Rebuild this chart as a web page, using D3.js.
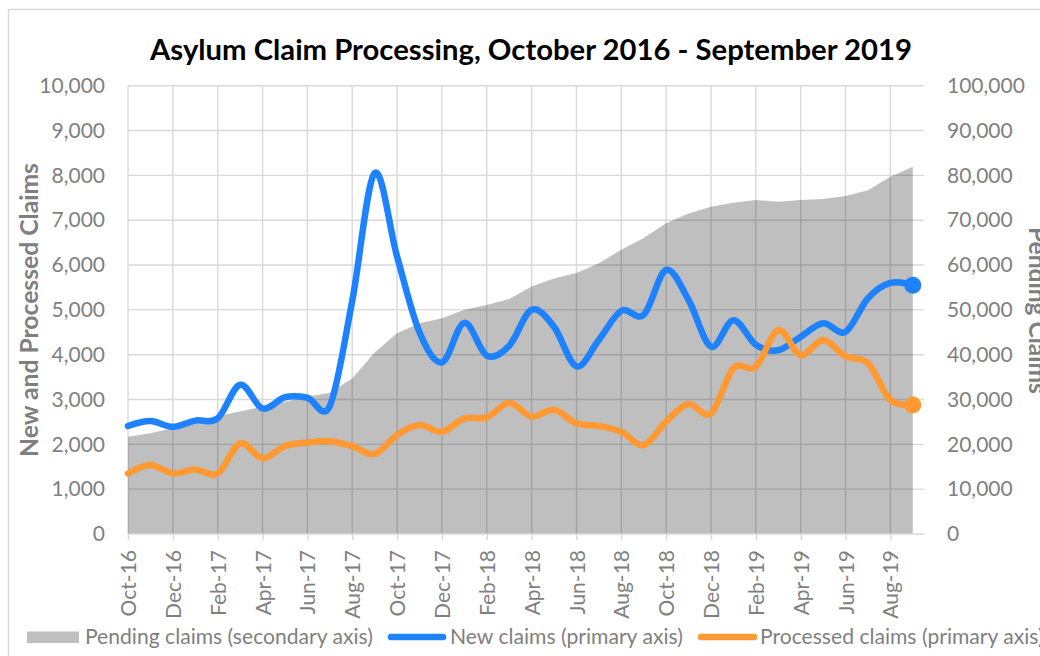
<!DOCTYPE html>
<html>
  <head>
    <meta charset="UTF-8" />
    <style>
      body {
        margin: 0;
        background: #fff;
        font-family: "Lato";
      }
      .tick text {
        fill: #7f7f7f;
      }
    </style>
  </head>
  <body>
    <svg></svg>
    <script src="https://d3js.org/d3.v7.min.js"></script>
    <script>
      let width = 1040,
        height = 656;

      // Data (Oct 2016 - Sep 2019, monthly)
      let months = [
        "Oct-16", "Nov-16", "Dec-16", "Jan-17", "Feb-17", "Mar-17",
        "Apr-17", "May-17", "Jun-17", "Jul-17", "Aug-17", "Sep-17",
        "Oct-17", "Nov-17", "Dec-17", "Jan-18", "Feb-18", "Mar-18",
        "Apr-18", "May-18", "Jun-18", "Jul-18", "Aug-18", "Sep-18",
        "Oct-18", "Nov-18", "Dec-18", "Jan-19", "Feb-19", "Mar-19",
        "Apr-19", "May-19", "Jun-19", "Jul-19", "Aug-19", "Sep-19",
      ];

      let newClaims = [
        2410, 2520, 2390, 2530, 2580, 3330, 2800, 3050, 3040, 2860, 5200, 8050,
        6190, 4500, 3830, 4710, 3980, 4200, 5000, 4620, 3740, 4330, 4980, 4890,
        5890, 5220, 4180, 4770, 4220, 4100, 4400, 4700, 4510, 5260, 5600, 5550,
      ];

      let processedClaims = [
        1350, 1540, 1350, 1440, 1350, 2020, 1690, 1960, 2040, 2070, 1960, 1785,
        2210, 2430, 2280, 2580, 2600, 2930, 2620, 2770, 2470, 2410, 2280, 1985,
        2510, 2900, 2690, 3700, 3730, 4550, 3990, 4330, 3960, 3810, 2990, 2880,
      ];

      let pendingClaims = [
        21700, 22500, 23600, 25000, 26300, 27300, 28400, 29500, 30600, 31500,
        34700, 40500, 44800, 47000, 48100, 50000, 51100, 52400, 55200, 57000,
        58200, 60400, 63400, 66000, 69300, 71500, 73000, 73900, 74500, 74100,
        74500, 74700, 75400, 76700, 79700, 81900,
      ];

      let primaryTicks = d3.range(0, 10001, 1000);
      let secondaryTicks = d3.range(0, 100001, 10000);

      let svg = d3
        .select("svg")
        .attr("width", width)
        .attr("height", height);

      // chart frame
      svg
        .append("rect")
        .attr("x", 8.5)
        .attr("y", 9.5)
        .attr("width", 1100)
        .attr("height", 700)
        .attr("fill", "none")
        .attr("stroke", "#d9d9d9")
        .attr("stroke-width", 1.5);

      let plotLeft = 128,
        plotRight = 924,
        plotTop = 85.7,
        plotBottom = 534;

      let x = d3
        .scaleLinear()
        .domain([0, months.length - 0.5])
        .range([plotLeft, plotRight]);

      let y = d3.scaleLinear().domain([0, 10000]).range([plotBottom, plotTop]);
      let y2 = d3
        .scaleLinear()
        .domain([0, 100000])
        .range([plotBottom, plotTop]);

      let labelIdx = months.map((m, i) => i).filter((i) => i % 2 == 0);

      // horizontal gridlines
      svg
        .append("g")
        .selectAll("line")
        .data(primaryTicks.slice(1))
        .enter()
        .append("line")
        .attr("x1", plotLeft)
        .attr("x2", plotRight)
        .attr("y1", (d) => y(d))
        .attr("y2", (d) => y(d))
        .attr("stroke", "#d9d9d9")
        .attr("stroke-width", 1.4);

      // vertical gridlines
      svg
        .append("g")
        .selectAll("line")
        .data(labelIdx)
        .enter()
        .append("line")
        .attr("x1", (d) => x(d))
        .attr("x2", (d) => x(d))
        .attr("y1", plotTop)
        .attr("y2", plotBottom)
        .attr("stroke", "#d9d9d9")
        .attr("stroke-width", 1.4);

      // Pending claims area (secondary axis)
      let area = d3
        .area()
        .x((d, i) => x(i))
        .y0(y2(0))
        .y1((d) => y2(d));

      svg
        .append("path")
        .datum(pendingClaims)
        .attr("d", area)
        .attr("fill", "#000")
        .attr("fill-opacity", 0.25);

      // x axis
      let xAxis = d3
        .axisBottom(x)
        .tickValues(labelIdx)
        .tickSize(6)
        .tickSizeOuter(0)
        .tickFormat((i) => months[i]);

      let gx = svg
        .append("g")
        .attr("transform", "translate(0," + plotBottom + ")")
        .call(xAxis);

      gx.select(".domain")
        .attr("d", "M" + plotLeft + ",0H" + plotRight)
        .attr("stroke", "#d9d9d9")
        .attr("stroke-width", 1.6);
      gx.selectAll(".tick line")
        .attr("stroke", "#d9d9d9")
        .attr("stroke-width", 1.4);
      gx.selectAll(".tick text")
        .attr("font-family", "Lato")
        .attr("font-size", 21)
        .attr("text-anchor", "end")
        .attr("transform", "rotate(-90)")
        .attr("x", -16)
        .attr("y", 0)
        .attr("dy", "0.36em");

      // primary y axis
      let gy = svg
        .append("g")
        .attr("transform", "translate(" + 105 + ",0)")
        .call(
          d3
            .axisLeft(y)
            .tickValues(primaryTicks)
            .tickSize(0)
            .tickPadding(0)
            .tickFormat(d3.format(","))
        );
      gy.select(".domain").remove();
      gy.selectAll(".tick text")
        .attr("font-family", "Lato")
        .attr("font-size", 21);

      // secondary y axis
      let gy2 = svg
        .append("g")
        .attr("transform", "translate(" + 947 + ",0)")
        .call(
          d3
            .axisRight(y2)
            .tickValues(secondaryTicks)
            .tickSize(0)
            .tickPadding(0)
            .tickFormat(d3.format(","))
        );
      gy2.select(".domain").remove();
      gy2
        .selectAll(".tick text")
        .attr("font-family", "Lato")
        .attr("font-size", 21);

      // lines
      let line = d3
        .line()
        .x((d, i) => x(i))
        .y((d) => y(d))
        .curve(d3.curveCardinal.tension(0));

      let last = months.length - 1;

      svg
        .append("path")
        .datum(newClaims)
        .attr("d", line)
        .attr("fill", "none")
        .attr("stroke", "#1e82ff")
        .attr("stroke-width", 6.5)
        .attr("stroke-linejoin", "round")
        .attr("stroke-linecap", "round");
      svg
        .append("circle")
        .attr("cx", x(last))
        .attr("cy", y(newClaims[last]))
        .attr("r", 8.5)
        .attr("fill", "#1e82ff");

      svg
        .append("path")
        .datum(processedClaims)
        .attr("d", line)
        .attr("fill", "none")
        .attr("stroke", "#ff9933")
        .attr("stroke-width", 6.5)
        .attr("stroke-linejoin", "round")
        .attr("stroke-linecap", "round");
      svg
        .append("circle")
        .attr("cx", x(last))
        .attr("cy", y(processedClaims[last]))
        .attr("r", 8.5)
        .attr("fill", "#ff9933");

      // fit text to a target width (Calibri is not available)
      function fit(sel, target) {
        let w = sel.node().getComputedTextLength();
        let fs = parseFloat(sel.attr("font-size"));
        sel.attr("font-size", (fs * target) / w);
        return sel;
      }

      // title
      let title = svg
        .append("text")
        .attr("x", 531)
        .attr("y", 60)
        .attr("text-anchor", "middle")
        .attr("font-family", "Lato")
        .attr("font-weight", "bold")
        .attr("font-size", 28)
        .attr("fill", "#000")
        .text("Asylum Claim Processing, October 2016 - September 2019");
      fit(title, 762);

      // axis titles
      let yTitle = svg
        .append("text")
        .attr("transform", "translate(38,310) rotate(-90)")
        .attr("text-anchor", "middle")
        .attr("font-family", "Lato")
        .attr("font-weight", "bold")
        .attr("font-size", 22)
        .attr("fill", "#7f7f7f")
        .text("New and Processed Claims");
      fit(yTitle, 294);

      let y2Title = svg
        .append("text")
        .attr("transform", "translate(1029,227) rotate(90)")
        .attr("text-anchor", "start")
        .attr("font-family", "Lato")
        .attr("font-weight", "bold")
        .attr("font-size", 22)
        .attr("fill", "#7f7f7f")
        .text("Pending Claims");
      fit(y2Title, 167);

      // legend
      let legend = svg.append("g").attr("class", "legend");
      let legendY = 637;

      legend
        .append("rect")
        .attr("x", 27)
        .attr("y", legendY - 5.5)
        .attr("width", 52)
        .attr("height", 11.5)
        .attr("fill", "#bfbfbf");
      fit(
        legend
          .append("text")
          .attr("x", 85)
          .attr("y", legendY + 6.5)
          .attr("font-family", "Lato")
          .attr("font-size", 21)
          .attr("fill", "#7f7f7f")
          .text("Pending claims (secondary axis)"),
        288
      );

      legend
        .append("line")
        .attr("x1", 391)
        .attr("x2", 443)
        .attr("y1", legendY)
        .attr("y2", legendY)
        .attr("stroke", "#1e82ff")
        .attr("stroke-width", 6.5)
        .attr("stroke-linecap", "round");
      fit(
        legend
          .append("text")
          .attr("x", 450)
          .attr("y", legendY + 6.5)
          .attr("font-family", "Lato")
          .attr("font-size", 21)
          .attr("fill", "#7f7f7f")
          .text("New claims (primary axis)"),
        233
      );

      legend
        .append("line")
        .attr("x1", 701)
        .attr("x2", 754)
        .attr("y1", legendY)
        .attr("y2", legendY)
        .attr("stroke", "#ff9933")
        .attr("stroke-width", 6.5)
        .attr("stroke-linecap", "round");
      let lastLabel = legend
        .append("text")
        .attr("x", 760)
        .attr("y", legendY + 6.5)
        .attr("font-family", "Lato")
        .attr("font-size", 21)
        .attr("fill", "#7f7f7f")
        .text("Processed claims (primary axis)");
      // same size as the other legend entries
      lastLabel.attr("font-size", legend.select("text").attr("font-size"));
    </script>
  </body>
</html>
